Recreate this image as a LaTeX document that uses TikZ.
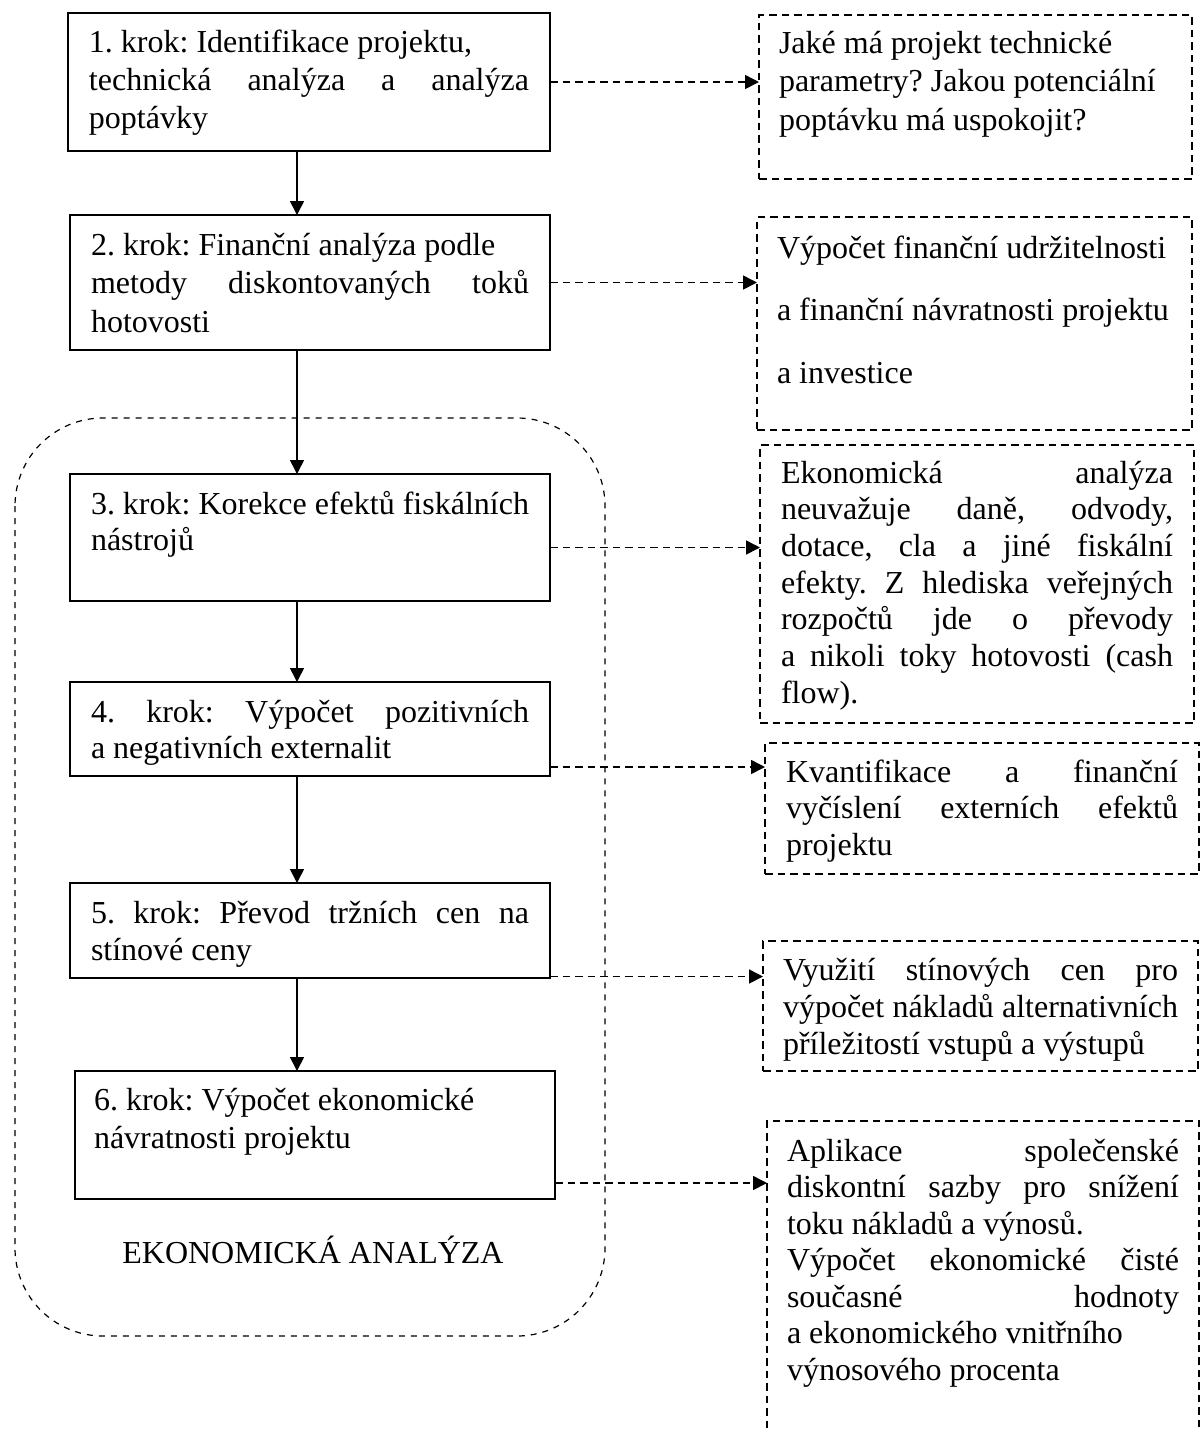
\documentclass[tikz,border=0pt]{standalone}
\usepackage{fontspec}
\setmainfont{Liberation Serif}
\usetikzlibrary{arrows.meta}
\hyphenpenalty=10000
\exhyphenpenalty=10000
\frenchspacing

\begin{document}
\begin{tikzpicture}[x=0.5pt,y=-0.5pt,>={Triangle[length=7pt,width=7pt]},font=\fontsize{16}{18.5}\selectfont]
\tikzstyle{krok}=[draw,line width=1pt,anchor=north west,inner xsep=10.5pt,inner ysep=0pt,outer sep=0pt,text width=219pt,align=justify,text height=20pt]
\tikzstyle{pozn}=[draw,line width=0.75pt,dash pattern=on 3.75pt off 2.5pt,anchor=north west,inner xsep=10.5pt,inner ysep=0pt,outer sep=0pt,text width=196pt,align=justify,text height=19.5pt]
\tikzstyle{sipka}=[->,line width=0.8pt]
\tikzstyle{odkaz}=[->,line width=0.8pt,dash pattern=on 3.75pt off 2.5pt]
\tikzstyle{oblast}=[line width=0.6pt,dash pattern=on 3pt off 3pt,rounded corners=44pt]

  \useasboundingbox (0,0) rectangle (1200,1432);
  \coordinate (osa) at (297,0);

  \node[krok,text width=220pt,text height=19.5pt,text depth=49.5pt,font=\fontsize{16}{19}\selectfont] (k1) at (68,13)
    {1. krok: Identifikace projektu,\newline technická analýza a analýza\linebreak poptávky};
  \node[krok,text depth=47.5pt,font=\fontsize{16}{19.25}\selectfont] (k2) at (70,215)
    {2. krok: Finanční analýza podle\newline metody diskontovaných toků\linebreak hotovosti};
  \node[krok,text depth=43.5pt,font=\fontsize{16}{18}\selectfont] (k3) at (70,474)
    {3. krok: Korekce efektů fiskálních\linebreak nástrojů};
  \node[krok,text depth=27pt,font=\fontsize{16}{18}\selectfont] (k4) at (70,682)
    {4. krok: Výpočet pozitivních\linebreak a negativních externalit};
  \node[krok,text depth=27.5pt] (k5) at (70,883)
    {5. krok: Převod tržních cen na\linebreak stínové ceny};
  \node[krok,inner xsep=9.5pt,text width=221pt,text height=19.5pt,text depth=44.5pt,font=\fontsize{16}{19}\selectfont] (k6) at (75,1071)
    {6. krok: Výpočet ekonomické\newline návratnosti projektu};

  \node[pozn,inner xsep=10pt,text width=196.5pt,text height=19pt,text depth=63pt,font=\fontsize{16}{19.25}\selectfont] (q1) at (759,15)
    {Jaké má projekt technické\newline parametry? Jakou potenciální\newline poptávku má uspokojit?};
  \node[pozn,inner xsep=10pt,text width=197.5pt,text height=20.5pt,text depth=86pt,font=\fontsize{16}{31.25}\selectfont] (q2) at (757,217)
    {Výpočet finanční udržitelnosti\newline a finanční návratnosti projektu\newline a investice};
  \node[pozn,text height=19pt,text depth=120pt,font=\fontsize{16}{18.35}\selectfont] (q3) at (760,445)
    {Ekonomická analýza\linebreak neuvažuje daně, odvody,\linebreak dotace, cla a jiné fiskální\linebreak efekty. Z hlediska veřejných\linebreak rozpočtů jde o převody\linebreak a nikoli toky hotovosti (cash\linebreak flow).};
  \node[pozn,text depth=46pt,font=\fontsize{16}{18.25}\selectfont] (q4) at (765,743)
    {Kvantifikace a finanční\linebreak vyčíslení externích efektů\linebreak projektu};
  \node[pozn,inner xsep=10pt,text width=197.5pt,text depth=45.5pt] (q5) at (763,941)
    {Využití stínových cen pro\linebreak výpočet nákladů alternativních\linebreak příležitostí vstupů a výstupů};
  \node[pozn,inner xsep=10pt,text height=20pt,text depth=142pt,font=\fontsize{16}{18.25}\selectfont] (q6) at (767,1121)
    {Aplikace společenské\linebreak diskontní sazby pro snížení\linebreak toku nákladů a výnosů.\newline Výpočet ekonomické čisté\linebreak současné hodnoty\linebreak a ekonomického vnitřního\newline výnosového procenta};

  \draw[oblast] (15,418) rectangle (605,1336);
  \node[anchor=base] (ea) at (313,1263) {EKONOMICKÁ ANALÝZA};

  \draw[sipka] (k1.south -| osa) -- (k2.north -| osa);
  \draw[sipka] (k2.south -| osa) -- (k3.north -| osa);
  \draw[sipka] (k3.south -| osa) -- (k4.north -| osa);
  \draw[sipka] (k4.south -| osa) -- (k5.north -| osa);
  \draw[sipka] (k5.south -| osa) -- (k6.north -| osa);

  \coordinate (o3) at ([yshift=-5pt]k3.east);
  \coordinate (o4) at ([yshift=-19pt]k4.east);
  \coordinate (o5) at ([yshift=-23pt]k5.east);
  \coordinate (o6) at ([yshift=-24pt]k6.east);

  \draw[odkaz] (k1.east) -- (k1.east -| q1.west);
  \draw[odkaz] (k2.east) -- (k2.east -| q2.west);
  \draw[odkaz] (o3) -- (o3 -| q3.west);
  \draw[odkaz] (o4) -- (o4 -| q4.west);
  \draw[odkaz] (o5) -- (o5 -| q5.west);
  \draw[odkaz] (o6) -- (o6 -| q6.west);
\end{tikzpicture}
\end{document}
